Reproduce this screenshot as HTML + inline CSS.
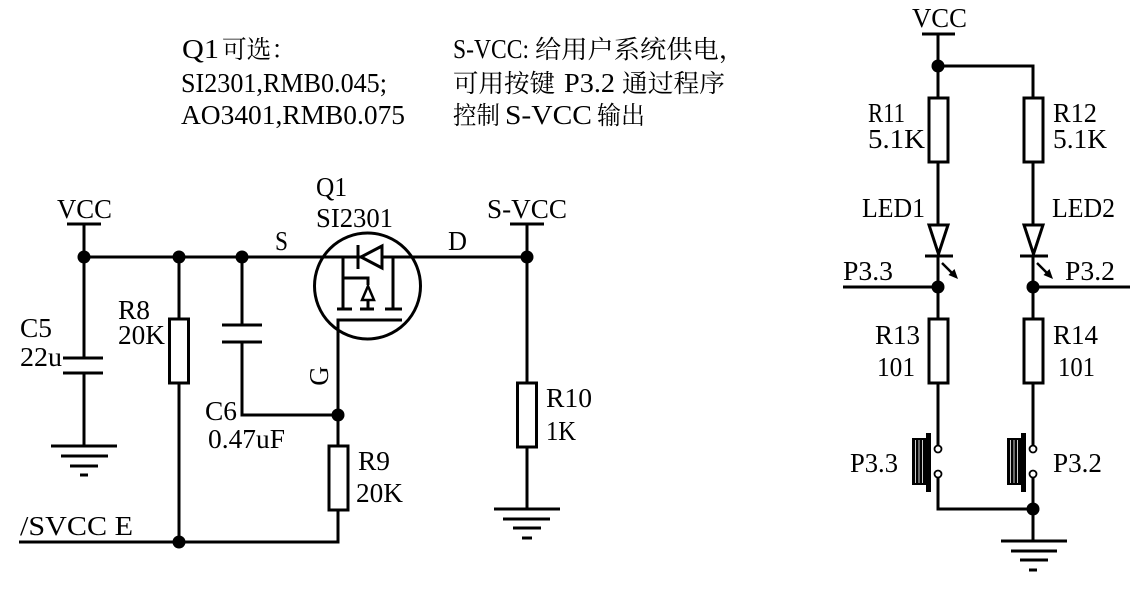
<!DOCTYPE html>
<html><head><meta charset="utf-8"><style>
html,body{margin:0;padding:0;background:#fff;}
svg{display:block;}
text{font-family:"Liberation Serif","Noto Serif CJK SC",serif;font-size:27px;fill:#000;}
text.cjk{font-size:25px;}
</style></head><body>
<svg width="1140" height="589" viewBox="0 0 1140 589" xmlns="http://www.w3.org/2000/svg">
<rect width="1140" height="589" fill="#fff"/>

<!-- top notes -->
<text x="182" y="58" textLength="37" lengthAdjust="spacingAndGlyphs">Q1</text>
<text class="cjk" x="222" y="58" textLength="74" lengthAdjust="spacingAndGlyphs">可选：</text>
<text x="181" y="92" textLength="206" lengthAdjust="spacingAndGlyphs">SI2301,RMB0.045;</text>
<text x="181" y="124" textLength="224" lengthAdjust="spacingAndGlyphs">AO3401,RMB0.075</text>

<text x="453" y="58" textLength="76" lengthAdjust="spacingAndGlyphs">S-VCC:</text>
<text class="cjk" x="535" y="58" textLength="210" lengthAdjust="spacingAndGlyphs">给用户系统供电，</text>
<text class="cjk" x="453" y="92" textLength="102" lengthAdjust="spacingAndGlyphs">可用按键</text>
<text x="564" y="92" textLength="51" lengthAdjust="spacingAndGlyphs">P3.2</text>
<text class="cjk" x="622" y="92" textLength="103" lengthAdjust="spacingAndGlyphs">通过程序</text>
<text class="cjk" x="453" y="124" textLength="47" lengthAdjust="spacingAndGlyphs">控制</text>
<text x="505" y="124" textLength="87" lengthAdjust="spacingAndGlyphs">S-VCC</text>
<text class="cjk" x="597" y="124" textLength="48" lengthAdjust="spacingAndGlyphs">输出</text>

<!-- LEFT CIRCUIT -->
<g stroke="#000" stroke-width="3" fill="none" stroke-linecap="butt">
  <line x1="67" y1="224" x2="101" y2="224"/>
  <line x1="84" y1="224" x2="84" y2="358"/>
  <line x1="63" y1="358" x2="103" y2="358"/>
  <line x1="63" y1="373" x2="103" y2="373"/>
  <line x1="84" y1="373" x2="84" y2="446"/>
  <line x1="51" y1="446" x2="117" y2="446"/>
  <line x1="61" y1="456" x2="108" y2="456"/>
  <line x1="70" y1="466" x2="98" y2="466"/>
  <line x1="80" y1="475" x2="88" y2="475"/>
  <line x1="84" y1="257" x2="527" y2="257"/>
  <line x1="179" y1="257" x2="179" y2="542"/>
  <rect x="169.5" y="319" width="19" height="64" fill="#fff"/>
  <line x1="242" y1="257" x2="242" y2="325"/>
  <line x1="222" y1="325" x2="262" y2="325"/>
  <line x1="222" y1="342" x2="262" y2="342"/>
  <polyline points="242,342 242,415 338,415"/>
  <polyline points="402,320 338,320 338,542 19,542"/>
  <rect x="329" y="446" width="19" height="64" fill="#fff"/>
  <circle cx="367.5" cy="286" r="53"/>
  <line x1="343" y1="257" x2="343" y2="309"/>
  <line x1="393" y1="257" x2="393" y2="309"/>
  <line x1="337" y1="309" x2="352" y2="309"/>
  <line x1="360" y1="309" x2="374" y2="309"/>
  <line x1="385" y1="309" x2="402" y2="309"/>
  <polyline points="343,278 368,278 368,285"/>
  <polygon points="368,286 362,300 374,300" fill="#fff" stroke-width="2.5"/>
  <line x1="368" y1="300" x2="368" y2="309"/>
  <polygon points="361,257 382,246 382,268" fill="#fff" stroke-width="3"/>
  <line x1="358" y1="245" x2="358" y2="269"/>
  <line x1="510" y1="224" x2="544" y2="224"/>
  <line x1="527" y1="224" x2="527" y2="509"/>
  <rect x="517.5" y="383" width="19" height="64" fill="#fff"/>
  <line x1="494" y1="509" x2="560" y2="509"/>
  <line x1="503" y1="519" x2="550" y2="519"/>
  <line x1="513" y1="528" x2="541" y2="528"/>
  <line x1="522" y1="538" x2="532" y2="538"/>
</g>
<g fill="#000">
  <circle cx="84" cy="257" r="6.5"/>
  <circle cx="179" cy="257" r="6.5"/>
  <circle cx="242" cy="257" r="6.5"/>
  <circle cx="527" cy="257" r="6.5"/>
  <circle cx="338" cy="415" r="6.5"/>
  <circle cx="179" cy="542" r="6.5"/>
</g>
<text x="57" y="218" textLength="55" lengthAdjust="spacingAndGlyphs">VCC</text>
<text x="20" y="337" textLength="32" lengthAdjust="spacingAndGlyphs">C5</text>
<text x="20" y="366" textLength="42" lengthAdjust="spacingAndGlyphs">22u</text>
<text x="118" y="319" textLength="32" lengthAdjust="spacingAndGlyphs">R8</text>
<text x="118" y="344" textLength="47" lengthAdjust="spacingAndGlyphs">20K</text>
<text x="275" y="250" textLength="13" lengthAdjust="spacingAndGlyphs">S</text>
<text x="316" y="196" textLength="31" lengthAdjust="spacingAndGlyphs">Q1</text>
<text x="316" y="227" textLength="77" lengthAdjust="spacingAndGlyphs">SI2301</text>
<text x="448" y="250" textLength="19" lengthAdjust="spacingAndGlyphs">D</text>
<text x="487" y="218" textLength="80" lengthAdjust="spacingAndGlyphs">S-VCC</text>
<text x="0" y="0" text-anchor="middle" transform="translate(328,376) rotate(-90)">G</text>
<text x="205" y="420" textLength="32" lengthAdjust="spacingAndGlyphs">C6</text>
<text x="208" y="448" textLength="77" lengthAdjust="spacingAndGlyphs">0.47uF</text>
<text x="358" y="470" textLength="32" lengthAdjust="spacingAndGlyphs">R9</text>
<text x="356" y="502" textLength="47" lengthAdjust="spacingAndGlyphs">20K</text>
<text x="546" y="407" textLength="46" lengthAdjust="spacingAndGlyphs">R10</text>
<text x="546" y="440" textLength="30" lengthAdjust="spacingAndGlyphs">1K</text>
<text x="20" y="535" textLength="113" lengthAdjust="spacingAndGlyphs">/SVCC  E</text>

<!-- RIGHT CIRCUIT -->
<g stroke="#000" stroke-width="3" fill="none">
  <line x1="922" y1="34" x2="955" y2="34"/>
  <line x1="938" y1="34" x2="938" y2="98"/>
  <polyline points="938,66 1033,66 1033,98"/>
  <rect x="929" y="98" width="19" height="64" fill="#fff"/>
  <rect x="1024" y="98" width="19" height="64" fill="#fff"/>
  <line x1="938" y1="162" x2="938" y2="224"/>
  <line x1="1033" y1="162" x2="1033" y2="224"/>
  <polygon points="929,225 948,225 938.5,254" fill="#fff"/>
  <polygon points="1024,225 1043,225 1033.5,254" fill="#fff"/>
  <line x1="925" y1="256" x2="953" y2="256"/>
  <line x1="1020" y1="256" x2="1048" y2="256"/>
  <line x1="938" y1="256" x2="938" y2="446"/>
  <line x1="1033" y1="256" x2="1033" y2="446"/>
  <line x1="942" y1="263" x2="952" y2="273" stroke-width="2.5"/>
  <line x1="1037" y1="263" x2="1047" y2="273" stroke-width="2.5"/>
  <line x1="843" y1="287" x2="938" y2="287"/>
  <line x1="1033" y1="287" x2="1130" y2="287"/>
  <rect x="929" y="319" width="19" height="64" fill="#fff"/>
  <rect x="1024" y="319" width="19" height="64" fill="#fff"/>
  <polyline points="938,477 938,509 1033,509"/>
  <line x1="1033" y1="477" x2="1033" y2="541"/>
  <line x1="1001" y1="541" x2="1067" y2="541"/>
  <line x1="1011" y1="551" x2="1057" y2="551"/>
  <line x1="1020" y1="560" x2="1048" y2="560"/>
  <line x1="1029" y1="570" x2="1037" y2="570"/>
</g>
<g fill="#000">
  <polygon points="958,279 948.5,275 954.5,269"/>
  <polygon points="1053,279 1043.5,275 1049.5,269"/>
  <circle cx="938" cy="66" r="6.5"/>
  <circle cx="938" cy="287" r="6.5"/>
  <circle cx="1033" cy="287" r="6.5"/>
  <circle cx="1033" cy="509" r="6.5"/>
  <rect x="926" y="433" width="5" height="59"/>
  <rect x="912" y="438" width="14" height="47"/>
  <rect x="1021" y="433" width="5" height="59"/>
  <rect x="1007" y="438" width="14" height="47"/>
</g>
<g stroke="#fff" stroke-width="0.8">
  <line x1="915.5" y1="440" x2="915.5" y2="483"/>
  <line x1="919" y1="440" x2="919" y2="483"/>
  <line x1="922.5" y1="440" x2="922.5" y2="483"/>
  <line x1="1010.5" y1="440" x2="1010.5" y2="483"/>
  <line x1="1014" y1="440" x2="1014" y2="483"/>
  <line x1="1017.5" y1="440" x2="1017.5" y2="483"/>
</g>
<g stroke="#000" stroke-width="1.8" fill="#fff">
  <circle cx="938" cy="449" r="3.5"/>
  <circle cx="938" cy="474" r="3.5"/>
  <circle cx="1033" cy="449" r="3.5"/>
  <circle cx="1033" cy="474" r="3.5"/>
</g>
<text x="912" y="27" textLength="55" lengthAdjust="spacingAndGlyphs">VCC</text>
<text x="868" y="122" textLength="37" lengthAdjust="spacingAndGlyphs">R11</text>
<text x="868" y="148" textLength="57" lengthAdjust="spacingAndGlyphs">5.1K</text>
<text x="1053" y="122" textLength="44" lengthAdjust="spacingAndGlyphs">R12</text>
<text x="1053" y="148" textLength="54" lengthAdjust="spacingAndGlyphs">5.1K</text>
<text x="862" y="217" textLength="63" lengthAdjust="spacingAndGlyphs">LED1</text>
<text x="1052" y="217" textLength="63" lengthAdjust="spacingAndGlyphs">LED2</text>
<text x="843" y="280" textLength="50" lengthAdjust="spacingAndGlyphs">P3.3</text>
<text x="1065" y="280" textLength="50" lengthAdjust="spacingAndGlyphs">P3.2</text>
<text x="875" y="344" textLength="45" lengthAdjust="spacingAndGlyphs">R13</text>
<text x="877" y="376" textLength="38" lengthAdjust="spacingAndGlyphs">101</text>
<text x="1053" y="344" textLength="45" lengthAdjust="spacingAndGlyphs">R14</text>
<text x="1058" y="376" textLength="37" lengthAdjust="spacingAndGlyphs">101</text>
<text x="850" y="472" textLength="48" lengthAdjust="spacingAndGlyphs">P3.3</text>
<text x="1053" y="472" textLength="49" lengthAdjust="spacingAndGlyphs">P3.2</text>
</svg>
</body></html>
